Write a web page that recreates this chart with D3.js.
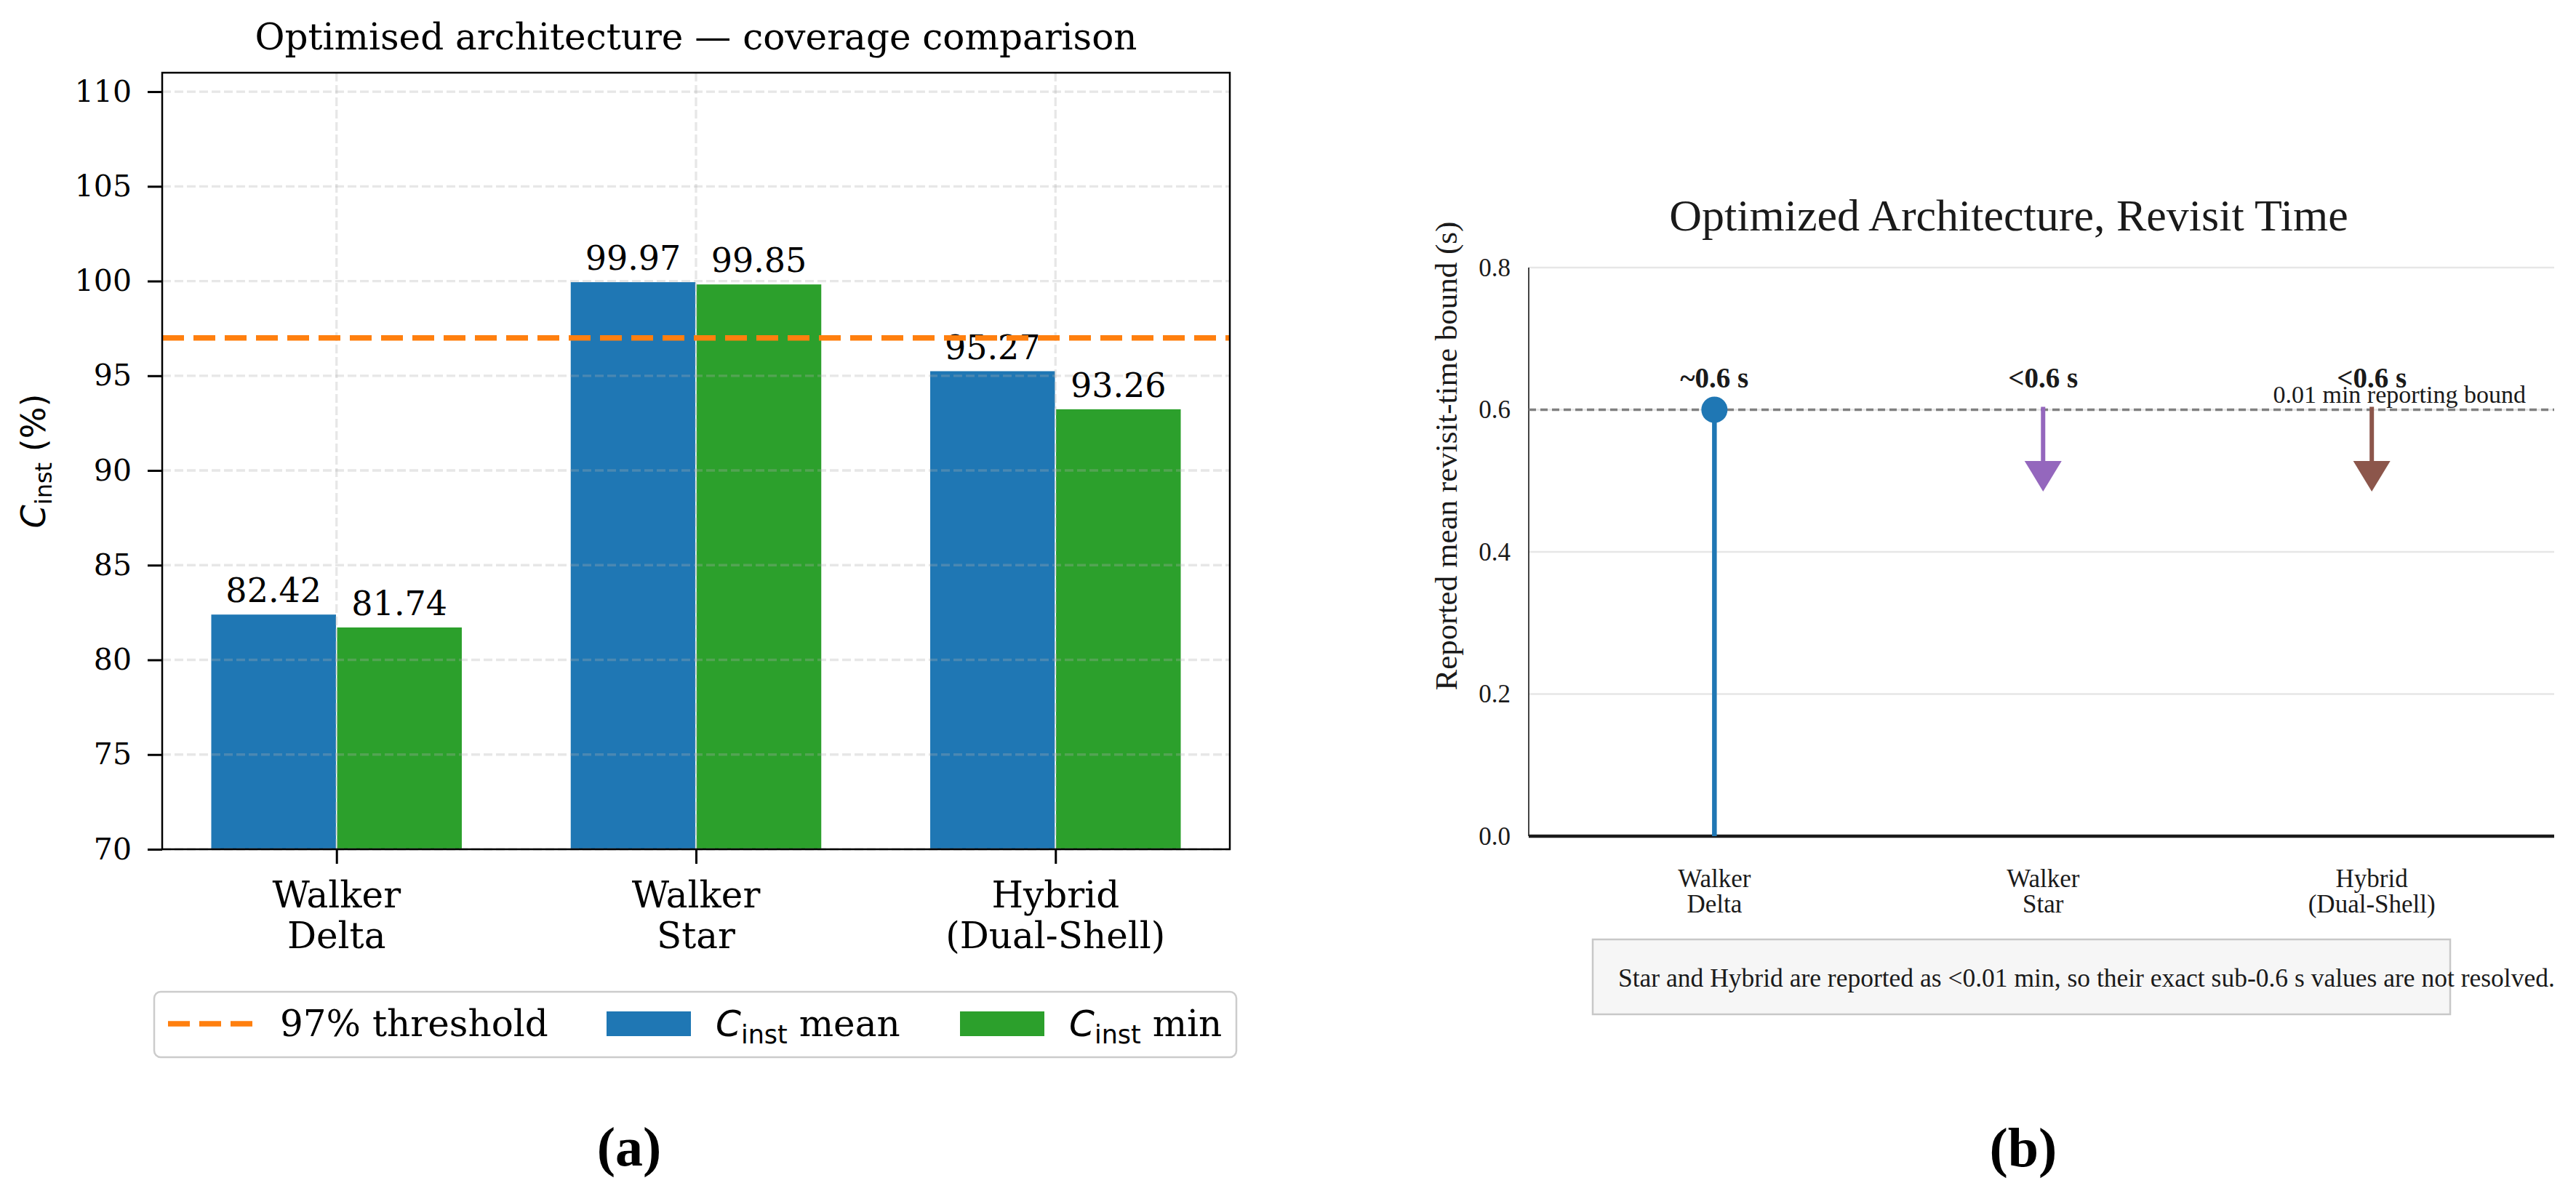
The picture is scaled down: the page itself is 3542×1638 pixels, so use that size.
<!DOCTYPE html>
<html>
<head>
<meta charset="utf-8">
<title>Optimised architecture — coverage and revisit time</title>
<script src="https://cdn.jsdelivr.net/npm/d3@7"></script>
<style>
  body { margin: 0; background: #fff; }
  svg { display: block; background: #fff; }
  .panel-a text { font-family: "DejaVu Serif", serif; fill: #000; }
  .panel-b text { font-family: "Liberation Serif", "Times New Roman", serif; fill: #1a1a1a; }
  .caption { font-family: "Liberation Serif", serif; font-weight: bold; font-size: 76px; }
</style>
</head>
<body>
<svg id="fig" width="3542" height="1638"></svg>
<script>
// ---- panel (a) data
const categories = ["Walker\nDelta", "Walker\nStar", "Hybrid\n(Dual-Shell)"];
const cinstMean = [82.42, 99.97, 95.27];
const cinstMin = [81.74, 99.85, 93.26];
const threshold = 97;
const yTicksA = [70, 75, 80, 85, 90, 95, 100, 105, 110];

// ---- panel (b) data
const revisitBound = 0.6;           // 0.01 min reporting bound, in seconds
const revisitValue = [0.6, 0.6, 0.6];
const revisitArrowTo = [null, 0.485, 0.485];   // null = point estimate
const revisitLabels = ["~0.6 s", "<0.6 s", "<0.6 s"];
const revisitColors = ["#1f77b4", "#9467bd", "#8c564b"];
const yTicksB = [0, 0.2, 0.4, 0.6, 0.8];
const noteText = "Star and Hybrid are reported as <0.01 min, so their exact sub-0.6 s values are not resolved.";

const svg = d3.select("#fig");

// multi-line tick label helper
function multiline(sel, lines, lh) {
  lines.forEach((t, k) => {
    sel.append("tspan").attr("x", sel.attr("x")).attr("dy", k === 0 ? 0 : lh).text(t);
  });
}

// ================= panel (a): grouped bars =================
const A = {left: 223, right: 1691, top: 100, bottom: 1168};
const gA = svg.append("g").attr("class", "panel-a");
const xA = d3.scaleLinear().domain([-0.485, 2.485]).range([A.left, A.right]);
const yA = d3.scaleLinear().domain([70, 111]).range([A.bottom, A.top]);
const barW = 0.35;

const series = [
  {name: "mean", values: cinstMean, color: "#1f77b4", off: -barW},
  {name: "min", values: cinstMin, color: "#2ca02c", off: 0}
];

series.forEach(s => {
  gA.append("g").selectAll("rect")
    .data(s.values)
    .enter().append("rect")
    .attr("x", (d, i) => xA(i + s.off))
    .attr("width", xA(barW) - xA(0))
    .attr("y", d => yA(d))
    .attr("height", d => yA(70) - yA(d))
    .attr("fill", s.color)
    .attr("stroke", "#fff")
    .attr("stroke-width", 1.5);
});

// grid (drawn over the bars, like matplotlib's default)
const gridA = gA.append("g");
gridA.selectAll("line.h")
  .data(yTicksA)
  .enter().append("line")
  .attr("x1", A.left).attr("x2", A.right)
  .attr("y1", d => yA(d)).attr("y2", d => yA(d))
  .attr("stroke", "#b0b0b0").attr("stroke-opacity", 0.3)
  .attr("stroke-width", 3.3).attr("stroke-dasharray", "12 5");
gridA.selectAll("line.v")
  .data(categories)
  .enter().append("line")
  .attr("x1", (d, i) => xA(i)).attr("x2", (d, i) => xA(i))
  .attr("y1", A.top).attr("y2", A.bottom)
  .attr("stroke", "#b0b0b0").attr("stroke-opacity", 0.3)
  .attr("stroke-width", 3.3).attr("stroke-dasharray", "12 5");

// value labels
series.forEach(s => {
  gA.append("g").selectAll("text")
    .data(s.values)
    .enter().append("text")
    .attr("x", (d, i) => xA(i + s.off + barW / 2))
    .attr("y", d => yA(d) - 16)
    .attr("text-anchor", "middle")
    .attr("font-size", 46)
    .text(d => d.toFixed(2));
});

// threshold line
gA.append("line")
  .attr("x1", A.left).attr("x2", A.right)
  .attr("y1", yA(threshold)).attr("y2", yA(threshold))
  .attr("stroke", "#ff7f0e").attr("stroke-width", 7.5)
  .attr("stroke-dasharray", "30 13");

// spines
gA.append("rect")
  .attr("x", A.left).attr("y", A.top)
  .attr("width", A.right - A.left).attr("height", A.bottom - A.top)
  .attr("fill", "none").attr("stroke", "#000").attr("stroke-width", 2.5);

// y axis
const yAxisA = gA.append("g").attr("transform", `translate(${A.left},0)`)
  .call(d3.axisLeft(yA).tickValues(yTicksA).tickSize(20).tickPadding(22));
yAxisA.select(".domain").remove();
yAxisA.selectAll(".tick line").attr("stroke", "#000").attr("stroke-width", 3);
yAxisA.selectAll(".tick text").attr("font-size", 41).attr("font-family", "DejaVu Serif");

// x axis
const xAxisA = gA.append("g").attr("transform", `translate(0,${A.bottom})`)
  .call(d3.axisBottom(xA).tickValues([0, 1, 2]).tickSize(20).tickFormat(""));
xAxisA.select(".domain").remove();
xAxisA.selectAll(".tick line").attr("stroke", "#000").attr("stroke-width", 3);

gA.append("g").selectAll("text")
  .data(categories)
  .enter().append("text")
  .attr("x", (d, i) => xA(i))
  .attr("y", A.bottom + 80)
  .attr("text-anchor", "middle")
  .attr("font-size", 50)
  .each(function(d) { multiline(d3.select(this), d.split("\n"), 56); });

// title
gA.append("text")
  .attr("x", (A.left + A.right) / 2).attr("y", 68)
  .attr("text-anchor", "middle").attr("font-size", 50)
  .text("Optimised architecture — coverage comparison");

// y label: C_inst (%)
const yl = gA.append("text")
  .attr("transform", `translate(62,${(A.top + A.bottom) / 2}) rotate(-90)`)
  .attr("text-anchor", "middle").attr("font-size", 46)
  .style("font-family", "DejaVu Sans");
yl.append("tspan").attr("font-style", "italic").text("C");
yl.append("tspan").attr("font-size", 32).attr("dy", 9).text("inst");
yl.append("tspan").attr("dy", -9).text("\u00a0(%)");

// legend
const lg = gA.append("g");
lg.append("rect")
  .attr("x", 212).attr("y", 1364).attr("width", 1488).attr("height", 90)
  .attr("rx", 9).attr("fill", "#fff").attr("stroke", "#cccccc").attr("stroke-width", 2.5);
lg.append("line")
  .attr("x1", 231).attr("x2", 352).attr("y1", 1408).attr("y2", 1408)
  .attr("stroke", "#ff7f0e").attr("stroke-width", 7.5).attr("stroke-dasharray", "30 13");
lg.append("text").attr("x", 385).attr("y", 1425).attr("font-size", 50).text("97% threshold");

const legendItems = [
  {patchX: 834, textX: 984, color: "#1f77b4", word: "mean"},
  {patchX: 1320, textX: 1470, color: "#2ca02c", word: "min"}
];
legendItems.forEach(it => {
  lg.append("rect")
    .attr("x", it.patchX).attr("y", 1391).attr("width", 116).attr("height", 34)
    .attr("fill", it.color);
  const t = lg.append("text").attr("x", it.textX).attr("y", 1425).attr("font-size", 50);
  t.append("tspan").attr("font-style", "italic").style("font-family", "DejaVu Sans").text("C");
  t.append("tspan").attr("font-size", 35).attr("dy", 10).style("font-family", "DejaVu Sans").text("inst");
  t.append("tspan").attr("dy", -10).text("\u00a0" + it.word);
});

svg.append("text").attr("class", "caption")
  .attr("x", 865).attr("y", 1603).attr("text-anchor", "middle").text("(a)");

// ================= panel (b): revisit time =================
const B = {left: 2102, right: 3512, top: 368, bottom: 1150};
const gB = svg.append("g").attr("class", "panel-b");
const xB = d3.scaleLinear().domain([-0.565, 2.555]).range([B.left, B.right]);
const yB = d3.scaleLinear().domain([0, 0.8]).range([B.bottom, B.top]);

// grid
gB.append("g").selectAll("line")
  .data(yTicksB.filter(d => d > 0))
  .enter().append("line")
  .attr("x1", B.left).attr("x2", B.right)
  .attr("y1", d => yB(d)).attr("y2", d => yB(d))
  .attr("stroke", "#e6e6e6").attr("stroke-width", 2.5);

// left spine + zero line
gB.append("line")
  .attr("x1", B.left).attr("x2", B.left).attr("y1", B.top).attr("y2", B.bottom)
  .attr("stroke", "#444").attr("stroke-width", 2);
gB.append("line")
  .attr("x1", B.left).attr("x2", B.right).attr("y1", yB(0)).attr("y2", yB(0))
  .attr("stroke", "#1a1a1a").attr("stroke-width", 4.5);

// y ticks
const yAxisB = gB.append("g").attr("transform", `translate(${B.left},0)`)
  .call(d3.axisLeft(yB).tickValues(yTicksB).tickSize(0).tickPadding(25).tickFormat(d3.format(".1f")));
yAxisB.select(".domain").remove();
yAxisB.selectAll(".tick text").attr("font-size", 35)
  .attr("font-family", "Liberation Serif").attr("fill", "#1a1a1a");

// x tick labels
gB.append("g").selectAll("text")
  .data(categories)
  .enter().append("text")
  .attr("x", (d, i) => xB(i))
  .attr("y", 1220)
  .attr("text-anchor", "middle")
  .attr("font-size", 35)
  .each(function(d) { multiline(d3.select(this), d.split("\n"), 35); });

// reporting bound line + label
gB.append("line")
  .attr("x1", B.left).attr("x2", B.right)
  .attr("y1", yB(revisitBound)).attr("y2", yB(revisitBound))
  .attr("stroke", "#808080").attr("stroke-width", 3.5).attr("stroke-dasharray", "10 6");
gB.append("text")
  .attr("x", 3473).attr("y", yB(revisitBound) - 10)
  .attr("text-anchor", "end").attr("font-size", 34)
  .text("0.01 min reporting bound");

// marks
revisitValue.forEach((v, i) => {
  const col = revisitColors[i];
  if (revisitArrowTo[i] === null) {
    gB.append("line")
      .attr("x1", xB(i)).attr("x2", xB(i)).attr("y1", yB(0)).attr("y2", yB(v))
      .attr("stroke", col).attr("stroke-width", 6.5);
    gB.append("circle")
      .attr("cx", xB(i)).attr("cy", yB(v)).attr("r", 18).attr("fill", col);
  } else {
    const tip = yB(revisitArrowTo[i]);
    const headLen = 42, headHalf = 25.5;
    gB.append("line")
      .attr("x1", xB(i)).attr("x2", xB(i)).attr("y1", yB(v) - 4).attr("y2", tip - headLen + 2)
      .attr("stroke", col).attr("stroke-width", 6);
    gB.append("path")
      .attr("d", d3.line()([[xB(i) - headHalf, tip - headLen], [xB(i) + headHalf, tip - headLen], [xB(i), tip]]) + "Z")
      .attr("fill", col);
  }
  gB.append("text")
    .attr("x", xB(i)).attr("y", yB(v) - 31)
    .attr("text-anchor", "middle").attr("font-size", 39).attr("font-weight", "bold")
    .text(revisitLabels[i]);
});

// title
gB.append("text")
  .attr("x", 2762).attr("y", 317)
  .attr("text-anchor", "middle").attr("font-size", 62)
  .text("Optimized Architecture, Revisit Time");

// y label
gB.append("text")
  .attr("transform", "translate(2003,627) rotate(-90)")
  .attr("text-anchor", "middle").attr("font-size", 43)
  .text("Reported mean revisit-time bound (s)");

// note box (text runs past the box, as in the source)
gB.append("rect")
  .attr("x", 2190).attr("y", 1292).attr("width", 1179).attr("height", 103)
  .attr("fill", "#f6f6f6").attr("stroke", "#c8c8c8").attr("stroke-width", 2.5);
gB.append("text")
  .attr("x", 2225).attr("y", 1357).attr("font-size", 35.5)
  .text(noteText);

svg.append("text").attr("class", "caption")
  .attr("x", 2782).attr("y", 1604).attr("text-anchor", "middle").text("(b)");
</script>
</body>
</html>
